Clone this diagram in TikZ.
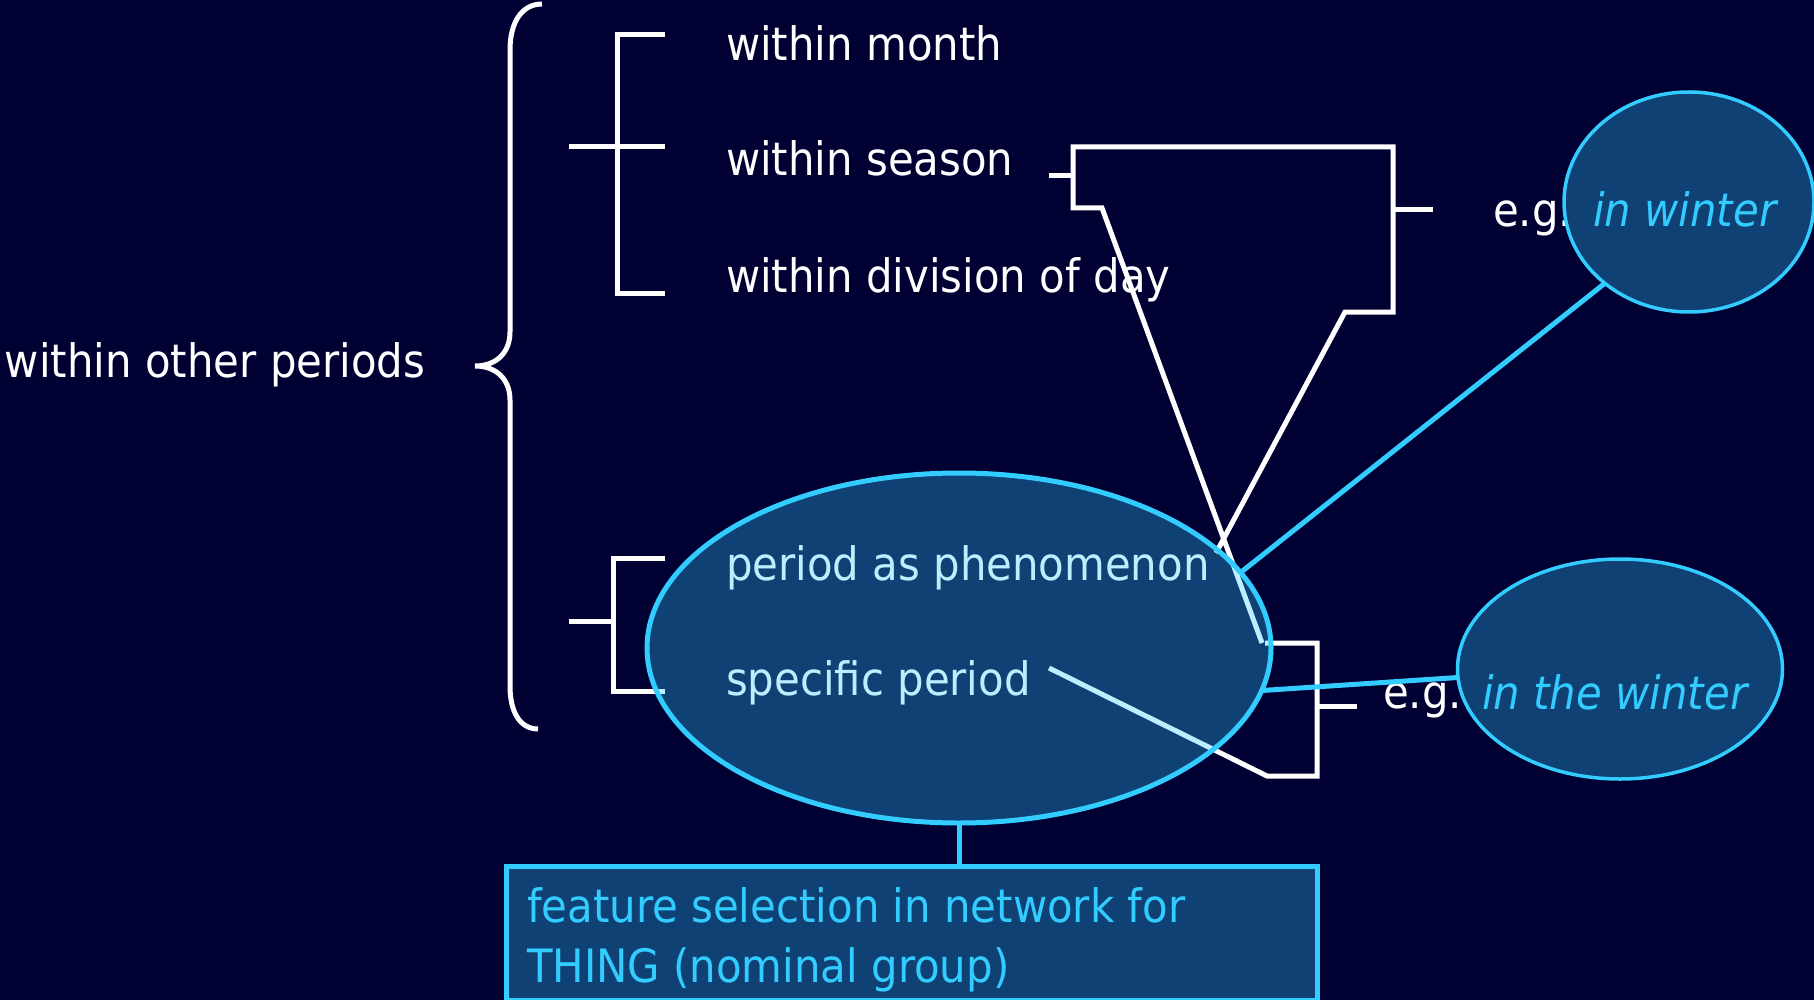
\documentclass[tikz,border=0pt]{standalone}
\usepackage{fontspec}
\setmainfont{DejaVu Sans}[FakeStretch=0.91]
\usetikzlibrary{shapes.geometric}
\definecolor{navy}{RGB}{0,0,51}
\definecolor{sky}{RGB}{51,204,255}
\tikzset{
  wline/.style={white, line width=5pt, line cap=butt, line join=miter},
  cline/.style={sky, line width=5pt, line cap=butt},
  lbl/.style={anchor=base west, inner sep=0pt, outer sep=0pt, text=white,
    font=\fontsize{46}{56}\selectfont},
  eglbl/.style={lbl, text=sky, font=\fontsize{46}{56}\selectfont\itshape},
  bubble/.style={ellipse, draw=sky, fill=sky, fill opacity=0.32, draw opacity=1,
    inner sep=0pt, outer sep=0pt},
  fbox/.style={rectangle, draw=sky, fill=sky, fill opacity=0.32, draw opacity=1,
    line width=5pt, inner sep=0pt, outer sep=0pt}
}
\begin{document}
\begin{tikzpicture}[x=1pt,y=-1pt]
\useasboundingbox (0,0) rectangle (1814,1000);
\fill[navy] (0,0) rectangle (1814,1000);

% the large brace
\draw[wline] (542,4) .. controls (522,4) and (510,22) .. (510,50) -- (510,332)
  .. controls (510,352) and (497,366) .. (475,366)
  .. controls (497,366) and (510,380) .. (510,400) -- (510,686)
  .. controls (510,712) and (520,729) .. (538,729);

% bracket: month / season / division of day
\draw[wline] (665,35) -- (617,35) -- (617,293) -- (665,293);
\draw[wline] (569,147) -- (665,147);

% bracket: phenomenon / specific
\draw[wline] (665,558) -- (613,558) -- (613,691) -- (665,691);
\draw[wline] (569,621) -- (613,621);

% gate from "within season" and its two outputs
\draw[wline] (1049,176) -- (1073,176);
\draw[wline] (1262,643) -- (1102,208) -- (1073,208) -- (1073,147) -- (1393,147)
  -- (1393,312) -- (1345,312) -- (1216,553);
\draw[wline] (1393,210) -- (1433,210);

% gate for the specific period
\draw[wline] (1049,668) -- (1267,776) -- (1317,776) -- (1317,643) -- (1265,643);
\draw[wline] (1317,706) -- (1357,706);

% white labels
\node[lbl] (tmonth) at (726,61) {within month};
\node[lbl] (tseason) at (726,176) {within season};
\node[lbl] (tday) at (726,292) {within division of day};
\node[lbl] (tother) at (5,377) {within other periods};
\node[lbl] (tphen) at (726,580) {period as phenomenon};
\node[lbl] (tspec) at (726,695) {specific period};
\node[lbl] (eg1) at (1493,227) {e.g.};
\node[lbl] (eg2) at (1383,708) {e.g.};

% highlighted regions
\node[bubble, line width=5pt, minimum width=624pt, minimum height=350pt] (big) at (959,648) {};
\node[bubble, line width=3.5pt, minimum width=250pt, minimum height=220pt] (w1) at (1689,202) {};
\node[bubble, line width=3.5pt, minimum width=325pt, minimum height=220pt] (w2) at (1620,669) {};
\node[fbox, anchor=north west, minimum width=811pt, minimum height=134pt] (feat) at (506,866) {};

% links
\draw[cline] (big.15) -- (w1.224);
\draw[cline] (big.-8) -- (w2.183);
\draw[cline] (big.south) -- (big.south |- feat.north);

% examples and caption
\node[eglbl] (ex1) at (1593,227) {in winter};
\node[eglbl] (ex2) at (1482,709) {in the winter};
\node[lbl, text=sky] (f1) at (527,922) {feature selection in network for};
\node[lbl, text=sky] (f2) at (527,982) {THING (nominal group)};
\end{tikzpicture}
\end{document}
